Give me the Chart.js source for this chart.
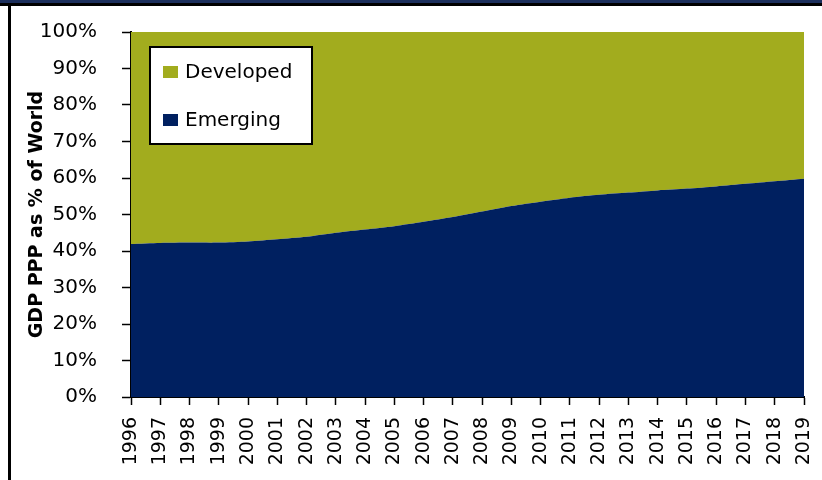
<!DOCTYPE html>
<html>
<head>
<meta charset="utf-8">
<script src="https://cdn.jsdelivr.net/npm/chart.js@4.4.1/dist/chart.umd.min.js"></script>
<style>
    html, body { margin: 0; padding: 0; background: #fff; }
    #wrap { position: relative; width: 822px; height: 480px; }
</style>
</head>
<body>
<div id="wrap"><canvas id="gdp-chart" width="822" height="480"></canvas></div>
<script>
// ===== GDP PPP share: emerging vs developed economies =====

const years = ['1996', '1997', '1998', '1999', '2000', '2001', '2002', '2003', '2004', '2005', '2006', '2007',
               '2008', '2009', '2010', '2011', '2012', '2013', '2014', '2015', '2016', '2017', '2018', '2019'];

// % of world GDP (PPP)
const emergingShare = [41.9, 42.2, 42.3, 42.3, 42.6, 43.2, 43.9, 45.0, 45.9, 46.8, 48.0, 49.3,
                       50.8, 52.3, 53.5, 54.6, 55.4, 56.0, 56.6, 57.1, 57.7, 58.4, 59.1, 59.8];
const developedShare = [58.1, 57.8, 57.7, 57.7, 57.4, 56.8, 56.1, 55.0, 54.1, 53.2, 52.0, 50.7,
                        49.2, 47.7, 46.5, 45.4, 44.6, 44.0, 43.4, 42.9, 42.3, 41.6, 40.9, 40.2];

const yTickLabels = ['0%', '10%', '20%', '30%', '40%', '50%', '60%', '70%', '80%', '90%', '100%'];

const NAVY = '#002060';
const OLIVE = '#a2ac1e';
const FONT = 'DejaVu Sans';

// Page frame: dark band on top and a black rule down the left side
const framePlugin = {
    id: 'frame',
    beforeDraw(chart) {
        const ctx = chart.ctx;
        ctx.save();
        ctx.fillStyle = '#fff';
        ctx.fillRect(0, 0, chart.width, chart.height);
        ctx.fillStyle = '#1c2f5c';
        ctx.fillRect(0, 0, chart.width, 3);
        ctx.fillStyle = '#000';
        ctx.fillRect(0, 3, chart.width, 3);
        ctx.fillRect(8, 3, 3, chart.height - 3);
        ctx.restore();
    }
};

// Boxed legend sitting inside the plot, top series first
const boxLegendPlugin = {
    id: 'boxLegend',
    afterDraw(chart) {
        const ctx = chart.ctx;
        const items = chart.data.datasets.slice().reverse();
        const x = 150, y = 47, w = 162, h = 97;

        ctx.save();
        ctx.fillStyle = '#fff';
        ctx.fillRect(x, y, w, h);
        ctx.strokeStyle = '#000';
        ctx.lineWidth = 2;
        ctx.strokeRect(x, y, w, h);

        ctx.font = '20px "' + FONT + '"';
        ctx.textBaseline = 'alphabetic';
        ctx.textAlign = 'left';
        items.forEach((ds, i) => {
            const rowY = y + 31 + i * 48;
            ctx.fillStyle = ds.backgroundColor;
            ctx.fillRect(x + 13, rowY - 12, 15, 12);
            ctx.fillStyle = '#000';
            ctx.fillText(ds.label, x + 35, rowY);
        });
        ctx.restore();
    }
};

const ctx = document.getElementById('gdp-chart').getContext('2d');

new Chart(ctx, {
    type: 'line',
    data: {
        labels: years,
        datasets: [{
            label: 'Emerging',
            data: emergingShare,
            backgroundColor: NAVY,
            borderWidth: 0,
            fill: 'origin',
            tension: 0.25,
            pointRadius: 0
        }, {
            label: 'Developed',
            data: developedShare,
            backgroundColor: OLIVE,
            borderWidth: 0,
            fill: '-1',
            tension: 0.25,
            pointRadius: 0
        }]
    },
    options: {
        responsive: false,
        animation: false,
        layout: {
            padding: { left: 0, top: 32, right: 18, bottom: 0 }
        },
        plugins: {
            legend: { display: false },
            tooltip: { enabled: false }
        },
        scales: {
            x: {
                offset: false,
                afterFit: scale => {
                    scale.height = 83;
                    scale.paddingLeft = 0;
                    scale.paddingRight = 0;
                },
                border: { color: '#000', width: 2 },
                grid: {
                    drawOnChartArea: false,
                    color: '#000',
                    tickLength: 8,
                    tickWidth: 1.5
                },
                ticks: {
                    color: '#000',
                    autoSkip: false,
                    minRotation: 90,
                    maxRotation: 90,
                    padding: 12,
                    font: { family: FONT, size: 19 }
                }
            },
            y: {
                stacked: true,
                min: 0,
                max: 100,
                afterFit: scale => {
                    scale.width = 131;
                    scale.paddingTop = 0;
                    scale.paddingBottom = 0;
                },
                border: { color: '#000', width: 2 },
                grid: {
                    drawOnChartArea: false,
                    color: '#000',
                    tickLength: 9,
                    tickWidth: 1.5
                },
                ticks: {
                    stepSize: 10,
                    color: '#000',
                    padding: 25,
                    font: { family: FONT, size: 20 },
                    callback: (value, index) => yTickLabels[index]
                },
                title: {
                    display: true,
                    text: 'GDP PPP as % of World',
                    color: '#000',
                    padding: { top: 26, bottom: 0 },
                    font: { family: FONT, size: 19, weight: 'bold' }
                }
            }
        }
    },
    plugins: [framePlugin, boxLegendPlugin]
});
</script>
</body>
</html>
